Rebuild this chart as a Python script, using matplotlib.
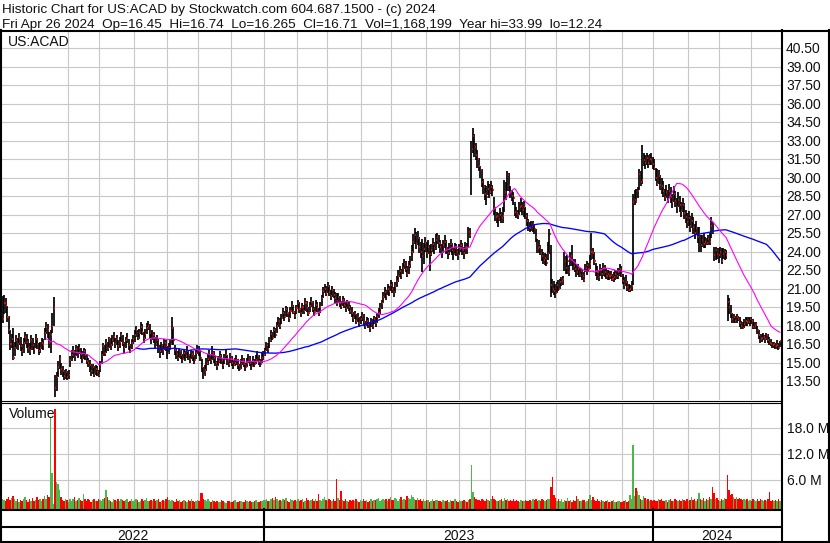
import numpy as np
import pandas as pd
import matplotlib
matplotlib.use("Agg")
import matplotlib.pyplot as plt

plt.rcParams['font.family'] = ['Liberation Sans', 'DejaVu Sans']

# ---------------- data ----------------
START_DATE = "2022-05-02"
TICKER = "US:ACAD"
HEADER_1 = "Historic Chart for US:ACAD by Stockwatch.com 604.687.1500 - (c) 2024"
HEADER_2 = "Fri Apr 26 2024  Op=16.45  Hi=16.74  Lo=16.265  Cl=16.71  Vol=1,168,199  Year hi=33.99  lo=12.24"

CLOSE = [
    18.5, 19.8, 19.6, 18.7, 17.6, 16.5, 16.9,
    15.4, 16.2, 16.8, 16.5, 17.0, 16.3, 15.9, 16.6, 17.1, 16.7, 16.2, 16.0, 16.8, 16.4, 16.1, 16.9, 16.5, 15.9, 16.2, 16.6, 16.4,
    17.4, 17.9, 17.6, 16.6, 17.2, 18.0, 19.4,
    12.9, 13.8, 14.6, 15.3, 14.5, 14.3, 13.9, 14.2, 13.8, 14.0,
    15.2, 15.6, 15.9, 15.5, 16.1, 15.8, 16.2, 15.7, 15.4, 15.9, 15.6, 15.1,
    15.0, 14.8, 14.3, 14.6, 14.1, 14.5, 14.2, 14.0,
    14.8, 15.6, 16.3, 15.8, 16.6, 16.2, 16.9, 16.4,
    16.8, 17.1, 16.5, 16.9, 16.3, 16.7, 17.2, 16.6, 16.2, 16.8, 17.0, 16.4, 16.1, 16.6, 16.9,
    17.2, 17.6, 17.0, 17.4, 17.9, 17.5, 17.0, 17.3, 17.8, 18.0, 17.4, 16.9, 17.2,
    17.0, 16.5, 16.8, 16.2, 15.9, 16.4, 16.0, 16.6, 16.3, 15.8, 16.2, 16.5, 17.8, 16.8,
    16.0, 15.7, 15.4, 15.9, 15.6, 15.3, 15.8, 15.5, 15.9, 15.6, 15.3, 15.7, 15.5, 15.2, 15.8, 16.1, 15.9, 15.4,
    14.6, 14.0, 14.4, 15.0, 15.3,
    15.6, 15.2, 15.8, 15.4, 15.0, 14.7, 15.1, 15.5, 15.2, 14.8, 15.3, 15.6, 15.1, 14.9, 15.4, 15.0, 14.8,
    15.0, 15.2, 14.8, 14.5, 14.9, 15.2, 14.9, 14.6, 15.0, 15.3, 15.0, 14.7, 15.1, 14.9, 15.2, 15.5, 15.1, 14.9, 15.4, 15.6,
    15.9, 16.4, 16.1, 16.8, 17.3, 17.0, 17.6, 17.2, 18.0, 18.4, 18.0,
    18.6, 19.0, 18.7, 19.3, 19.0, 18.6, 19.2, 19.6, 19.1, 18.8, 19.4, 19.8, 19.3, 19.0,
    19.5, 19.2, 19.8, 19.4, 19.0, 19.6, 19.9, 19.3, 19.1, 19.7, 19.4, 19.0, 19.5,
    20.2, 20.8, 21.0, 20.6, 21.2, 20.7, 20.4, 20.9, 20.5, 20.2,
    20.0, 20.3, 19.8, 19.6, 20.1, 19.7, 19.4, 19.8, 19.5, 19.2,
    19.0, 18.6, 18.9, 18.4, 18.7, 18.2, 18.5, 18.8, 18.3, 18.0, 18.4, 18.1, 17.8, 18.3, 18.0, 18.5, 18.2, 18.7, 19.0, 19.4,
    19.8, 20.3, 20.7, 20.4, 21.0, 20.8, 21.3, 21.0, 20.7, 21.2,
    21.6, 22.0, 22.4, 22.1, 22.7, 23.0, 22.6, 22.2, 22.8, 23.1,
    24.0, 24.8, 25.3, 24.6, 25.1, 24.4, 24.0,
    23.6, 24.2, 24.7, 23.9, 24.4, 23.8, 24.1, 24.6,
    24.3, 24.9, 25.2, 24.7, 24.4, 24.0, 24.5, 24.8, 24.3, 23.9, 24.2, 24.6, 24.1, 23.8, 24.3, 24.0, 23.7, 24.2, 24.5, 24.1, 23.9, 24.4, 24.2, 25.6, 25.3,
    32.3, 33.4, 32.5, 31.8, 31.5, 30.9, 30.6, 29.6, 29.2, 28.7,
    28.4, 29.1, 28.8, 29.2, 29.0, 27.5, 26.8, 26.9, 26.6, 27.0,
    26.7, 26.9, 28.8, 28.5, 30.2, 29.4, 28.8, 28.5, 28.3, 27.2,
    27.1, 27.0, 27.6, 27.7, 27.4, 27.6, 26.9, 26.5, 26.0, 25.9,
    26.1,
    26.2, 25.8, 25.2, 24.3, 24.4, 23.9, 23.6, 23.3, 23.5, 23.1, 23.9, 25.4, 21.3,
    21.0, 20.8, 20.6, 21.3, 21.0, 21.5, 21.6, 21.8,
    23.2, 22.7, 23.2, 22.3, 23.6, 23.3, 22.8, 22.6, 22.3, 22.6,
    22.1, 22.4, 22.0, 21.7, 22.7, 22.9, 22.6, 23.0, 24.0, 23.9,
    23.2, 22.4, 22.3, 21.9, 22.5, 22.2, 22.7, 22.3, 22.0, 22.2,
    22.0,
    22.1, 21.8, 21.9, 22.2, 22.0, 22.3, 22.6, 22.1, 21.6, 21.3,
    21.5, 21.1, 20.9, 21.0, 21.2, 28.0, 28.2, 28.0, 28.9, 30.3,
    29.6, 29.8, 31.4, 31.2, 31.6, 31.2, 31.5, 31.4,
    31.1,
    30.8, 30.0, 29.5, 30.1, 29.4, 29.3, 28.9, 28.4, 28.8, 28.2,
    28.9, 28.4, 28.0, 28.7, 28.1, 27.6, 28.2, 27.8, 27.3, 27.8, 27.1, 26.8, 26.4, 26.7, 26.1, 26.5, 26.0, 25.5, 25.9, 25.2,
    25.4, 24.5, 24.9, 24.6, 24.8, 24.7, 25.0, 24.8, 26.1, 25.6,
    23.7, 24.1, 23.8, 23.7, 24.0, 23.2, 23.8, 24.0, 23.7,
    19.9, 19.5, 19.0, 18.5, 18.7, 18.4, 18.7, 18.5, 18.2, 18.0, 17.8, 18.1, 18.4, 18.3, 18.3, 18.5, 18.4,
    17.9, 18.0, 18.1, 17.6, 17.2, 16.9, 17.0, 17.1, 16.9, 17.2, 16.8, 16.6, 16.5, 16.4, 16.5, 16.3, 16.4, 16.2, 16.71,
]

HIGH = [
    20.4, 20.5, 20.2, 19.6, 18.8, 17.6, 17.3,
    17.8, 16.7, 17.2, 17.0, 17.4, 17.1, 16.5, 17.0, 17.5, 17.3, 16.9, 16.6, 17.2, 17.0, 16.6, 17.3, 17.0, 16.6, 16.7, 17.0, 16.9,
    17.8, 18.3, 18.1, 17.5, 17.6, 19.0, 20.3,
    14.0, 14.2, 15.1, 15.6, 15.0, 14.7, 14.4, 14.5, 14.3, 14.4,
    15.5, 16.0, 16.3, 16.0, 16.4, 16.3, 16.5, 16.2, 15.9, 16.2, 16.1, 15.7,
    15.4, 15.2, 14.9, 14.9, 14.7, 14.8, 14.7, 14.4,
    15.1, 15.9, 16.6, 16.4, 16.9, 16.7, 17.1, 17.0,
    17.2, 17.5, 17.0, 17.2, 16.8, 17.1, 17.5, 17.2, 16.7, 17.1, 17.4, 16.9, 16.5, 16.9, 17.2,
    17.6, 18.0, 17.6, 17.7, 18.3, 18.1, 17.5, 17.7, 18.2, 18.4, 18.1, 17.5, 17.6,
    17.5, 17.1, 17.2, 16.9, 16.4, 16.7, 16.5, 16.9, 16.8, 16.3, 16.6, 16.9, 18.7, 17.9,
    16.4, 16.1, 15.9, 16.2, 16.0, 15.7, 16.1, 15.9, 16.3, 16.0, 15.7, 16.0, 15.9, 15.6, 16.1, 16.4, 16.3, 16.0,
    15.3, 14.6, 14.8, 15.4, 15.7,
    16.0, 15.7, 16.3, 15.9, 15.5, 15.1, 15.5, 15.9, 15.7, 15.3, 15.7, 16.0, 15.6, 15.3, 15.8, 15.5, 15.2,
    15.4, 15.6, 15.3, 14.9, 15.3, 15.6, 15.4, 15.0, 15.4, 15.7, 15.5, 15.1, 15.5, 15.3, 15.6, 15.9, 15.6, 15.3, 15.8, 15.9,
    16.2, 16.7, 16.6, 17.1, 17.6, 17.5, 17.9, 17.8, 18.3, 18.7, 18.6,
    18.9, 19.4, 19.2, 19.6, 19.5, 19.1, 19.5, 20.0, 19.7, 19.2, 19.7, 20.1, 19.9, 19.4,
    19.8, 19.7, 20.2, 20.0, 19.5, 19.9, 20.3, 20.0, 19.5, 20.1, 19.9, 19.4, 19.9,
    20.5, 21.1, 21.4, 21.2, 21.5, 21.3, 20.9, 21.2, 21.0, 20.7,
    20.6, 20.6, 20.4, 20.0, 20.4, 20.2, 19.9, 20.1, 20.0, 19.7,
    19.5, 19.1, 19.2, 18.9, 19.0, 18.7, 18.8, 19.1, 18.9, 18.4, 18.7, 18.6, 18.3, 18.6, 18.5, 18.8, 18.7, 19.0, 19.4, 19.8,
    20.1, 20.7, 21.1, 20.9, 21.4, 21.2, 21.7, 21.5, 21.1, 21.5,
    22.0, 22.5, 22.8, 22.6, 23.1, 23.4, 23.2, 22.8, 23.2, 23.6,
    24.5, 25.4, 25.9, 25.6, 25.7, 25.2, 24.8,
    25.0, 24.7, 25.2, 24.8, 24.9, 24.5, 24.6, 25.1,
    24.8, 25.4, 25.5, 25.3, 24.9, 24.6, 24.9, 25.3, 24.9, 24.4, 24.7, 25.0, 24.7, 24.3, 24.7, 24.6, 24.2, 24.6, 24.9, 24.7, 24.4, 24.8, 24.7, 26.0, 25.9,
    33.0, 34.0, 33.5, 32.8, 32.2, 31.6, 30.9, 30.7, 29.9, 29.4,
    29.3, 29.7, 29.5, 29.7, 29.4, 28.4, 27.6, 27.2, 27.1, 27.5,
    27.2, 27.6, 29.8, 29.6, 30.5, 30.4, 29.3, 29.0, 28.8, 28.0,
    27.6, 27.4, 28.0, 28.3, 28.0, 28.1, 27.6, 27.1, 26.6, 26.4,
    26.5,
    26.5, 26.2, 25.8, 25.0, 24.9, 24.5, 24.2, 24.0, 23.9, 23.8, 24.8, 25.8, 24.5,
    21.8, 21.6, 21.4, 21.5, 21.7, 21.8, 21.9, 22.0,
    24.0, 23.6, 23.7, 22.9, 24.0, 24.5, 23.4, 23.4, 23.0, 23.0,
    22.7, 22.7, 22.5, 22.3, 23.0, 23.2, 23.1, 23.7, 25.5, 24.3,
    24.0, 23.1, 22.8, 22.5, 23.0, 22.7, 23.1, 22.9, 22.7, 22.5,
    22.4,
    22.4, 22.2, 22.3, 22.5, 22.5, 22.7, 23.0, 22.8, 22.2, 21.9,
    22.1, 21.6, 21.4, 21.3, 21.6, 28.7, 29.0, 29.1, 29.2, 30.7,
    30.5, 32.6, 32.0, 31.8, 32.0, 31.8, 31.9, 32.0,
    31.7,
    31.5, 30.8, 30.7, 30.6, 30.2, 30.0, 29.7, 29.1, 29.4, 29.0,
    29.5, 29.2, 28.7, 29.3, 28.9, 28.3, 28.8, 28.5, 28.0, 28.3, 27.9, 27.4, 27.1, 27.3, 26.9, 27.1, 26.8, 26.2, 26.5, 26.0,
    26.0, 25.3, 25.3, 25.5, 25.2, 25.1, 25.3, 25.5, 26.8, 26.4,
    24.4, 24.4, 24.3, 24.3, 24.4, 24.3, 24.3, 24.2, 24.1,
    20.5, 20.2, 19.7, 19.0, 18.9, 18.8, 18.9, 18.8, 18.7, 18.4, 18.3, 18.5, 18.7, 18.7, 18.7, 18.6, 18.7,
    18.5, 18.3, 18.3, 18.0, 17.6, 17.3, 17.3, 17.4, 17.2, 17.4, 17.3, 17.1, 16.9, 16.7, 16.7, 16.6, 16.8, 16.6, 16.74,
]

LOW = [
    18.2, 18.9, 19.0, 18.3, 17.3, 16.0, 16.2,
    15.2, 15.5, 16.1, 16.0, 16.4, 15.9, 15.5, 15.8, 16.5, 16.2, 15.8, 15.6, 16.0, 16.0, 15.7, 16.2, 16.1, 15.6, 15.8, 16.1, 16.0,
    16.8, 17.3, 17.0, 16.2, 15.8, 17.4, 18.0,
    12.2, 12.7, 13.8, 14.5, 14.0, 13.8, 13.6, 13.7, 13.6, 13.7,
    14.6, 15.1, 15.4, 15.1, 15.5, 15.4, 15.7, 15.3, 15.0, 15.3, 15.2, 14.9,
    14.6, 14.2, 13.9, 14.1, 13.8, 14.0, 13.9, 13.8,
    14.2, 14.9, 15.5, 15.5, 15.8, 15.9, 16.2, 16.0,
    16.3, 16.7, 16.2, 16.4, 15.9, 16.2, 16.7, 16.3, 15.8, 16.2, 16.6, 16.0, 15.8, 16.1, 16.5,
    16.7, 17.1, 16.8, 16.9, 17.3, 17.2, 16.6, 16.9, 17.3, 17.6, 17.0, 16.5, 16.8,
    16.6, 16.2, 16.3, 15.8, 15.4, 15.8, 15.6, 16.0, 15.9, 15.3, 15.7, 16.0, 16.4, 16.4,
    15.6, 15.3, 15.1, 15.4, 15.3, 15.0, 15.3, 15.1, 15.4, 15.2, 15.0, 15.3, 15.1, 14.9, 15.3, 15.7, 15.5, 15.1,
    14.2, 13.7, 13.9, 14.3, 14.8,
    15.1, 14.9, 15.2, 15.0, 14.7, 14.4, 14.7, 15.0, 14.9, 14.5, 14.9, 15.2, 14.8, 14.6, 15.0, 14.7, 14.5,
    14.7, 14.8, 14.5, 14.3, 14.5, 14.8, 14.6, 14.3, 14.6, 15.0, 14.7, 14.4, 14.7, 14.6, 14.9, 15.1, 14.8, 14.6, 15.0, 15.2,
    15.5, 15.9, 15.8, 16.2, 16.7, 16.8, 17.1, 17.0, 17.4, 17.9, 17.7,
    18.1, 18.5, 18.4, 18.8, 18.7, 18.3, 18.6, 19.1, 18.9, 18.5, 18.9, 19.3, 19.0, 18.7,
    18.9, 18.9, 19.2, 19.1, 18.8, 19.1, 19.5, 19.1, 18.8, 19.1, 19.1, 18.8, 19.0,
    19.6, 20.2, 20.6, 20.4, 20.6, 20.4, 20.1, 20.3, 20.2, 19.8,
    19.6, 19.8, 19.5, 19.3, 19.6, 19.4, 19.1, 19.3, 19.2, 18.9,
    18.7, 18.3, 18.5, 18.1, 18.3, 17.9, 18.1, 18.4, 18.0, 17.7, 18.0, 17.8, 17.5, 17.9, 17.7, 18.1, 17.9, 18.2, 18.6, 18.9,
    19.3, 19.8, 20.2, 20.1, 20.5, 20.4, 20.8, 20.6, 20.3, 20.6,
    21.1, 21.5, 21.9, 21.8, 22.2, 22.6, 22.3, 21.9, 22.2, 22.7,
    23.2, 23.9, 24.6, 24.2, 24.5, 23.9, 23.5,
    22.3, 23.0, 24.0, 23.5, 23.8, 22.4, 23.6, 24.0,
    23.8, 24.1, 24.6, 24.3, 23.9, 23.5, 23.9, 24.3, 23.8, 23.4, 23.7, 24.0, 23.7, 23.3, 23.7, 23.6, 23.3, 23.7, 24.0, 23.7, 23.4, 23.8, 23.8, 24.3, 25.1,
    28.6, 32.0, 31.7, 31.4, 30.8, 30.5, 30.0, 29.2, 28.7, 28.2,
    27.8, 28.6, 28.3, 28.7, 28.5, 27.0, 26.5, 26.3, 26.0, 26.5,
    26.3, 26.3, 27.2, 28.2, 28.9, 28.9, 28.3, 28.1, 27.8, 26.9,
    26.7, 26.6, 27.0, 27.2, 27.0, 26.8, 26.6, 26.1, 25.7, 25.6,
    25.7,
    25.6, 25.4, 24.8, 23.9, 23.9, 23.7, 23.2, 23.0, 22.9, 22.8, 23.3, 23.8, 20.3,
    20.6, 20.5, 20.2, 20.6, 20.8, 21.0, 21.2, 21.3,
    22.4, 22.2, 22.2, 22.0, 22.8, 22.8, 22.5, 22.3, 21.9, 22.1,
    21.9, 21.9, 21.7, 21.5, 22.3, 22.1, 22.3, 22.6, 23.3, 23.4,
    22.9, 22.0, 21.7, 21.6, 22.0, 21.8, 22.0, 21.9, 21.8, 21.7,
    21.7,
    21.8, 21.6, 21.5, 21.7, 21.8, 21.8, 22.0, 21.9, 21.4, 21.0,
    21.2, 20.8, 20.7, 20.7, 20.8, 21.3, 27.8, 27.9, 28.3, 29.0,
    29.3, 29.5, 30.9, 30.7, 31.0, 30.8, 31.0, 31.0,
    30.7,
    30.6, 29.7, 29.3, 29.5, 29.0, 28.7, 28.4, 28.1, 28.3, 27.9,
    28.3, 27.9, 27.5, 28.0, 27.6, 27.1, 27.6, 27.2, 26.8, 27.2, 26.6, 26.3, 25.9, 26.1, 25.6, 25.9, 25.4, 25.0, 25.3, 24.7,
    24.0, 24.0, 24.4, 24.3, 24.3, 24.5, 24.5, 24.5, 25.1, 25.4,
    23.2, 23.3, 23.4, 23.1, 23.5, 23.0, 23.4, 23.3, 23.4,
    18.4, 18.9, 18.6, 18.2, 18.2, 18.2, 18.2, 18.4, 17.9, 17.7, 17.7, 17.8, 18.0, 18.0, 18.1, 18.0, 18.1,
    17.7, 17.7, 17.7, 17.3, 16.9, 16.6, 16.7, 16.8, 16.6, 16.8, 16.6, 16.4, 16.3, 16.2, 16.2, 16.1, 16.1, 16.0, 16.27,
]

# volume in units of 100,000 shares
VOLUME = [
    18, 14, 12, 17, 21, 15, 19, 24, 16, 13, 18, 11, 15, 12, 17, 22, 14, 11, 16, 13, 19, 12, 15, 21, 14, 18, 12, 16, 23, 17, 25, 22,
    206, 77, 6, 225, 56, 52, 38, 22,
    15, 12, 17, 14, 11, 16, 13, 18, 21, 12, 15, 19, 14, 13, 28, 16, 12, 17, 15, 11, 14, 17, 13, 12, 18,
    14, 12, 16, 19, 38, 22, 15, 13, 11, 17, 14, 12, 16, 13, 18, 15, 12, 14, 17, 11, 13, 16, 12, 15, 18, 14, 11, 13, 16, 12, 14, 19, 13, 12, 15,
    13, 16, 12, 14, 17, 11, 13, 15, 12, 18, 22, 14, 12, 15, 13, 11, 16, 12, 14, 10, 13, 15, 12, 11, 14, 13, 16, 12, 10, 13, 15, 12,
    31, 30, 18,
    14, 12, 16, 13, 11, 15, 12, 10, 13, 9, 11, 14, 12, 10, 8, 12, 13, 11, 9, 12, 14, 10, 11, 13, 12, 9, 11, 15, 12, 10, 13, 11, 9, 12, 14, 11, 10, 13, 12, 15,
    14, 17, 13, 12, 16, 19, 14, 22, 18, 13, 15, 12, 17, 14, 20, 13, 11, 16, 14, 12,
    15, 13, 18, 12, 14, 16, 11, 13, 19, 15, 12, 14, 17, 13, 16, 12, 28, 14, 13, 17,
    22, 15, 13, 18, 14, 12, 16, 13, 62, 19, 15, 35, 14, 12, 16, 13, 11, 15, 12, 14,
    13, 16, 12, 11, 15, 13, 18, 12, 14, 11, 13, 17, 12, 15, 14, 16, 19, 13, 15, 17,
    14, 18, 13, 16, 22, 15, 14, 19, 17, 13, 16, 21, 15, 18, 14, 24, 19, 16, 27, 22,
    18, 15, 20, 14, 17, 13, 16, 12, 15, 14, 11, 13, 16, 12, 14, 15, 12, 13, 11, 14,
    13, 12, 15, 11, 14, 12, 13, 16, 12, 11, 14, 13, 12, 15, 13, 11, 14, 18, 95, 32,
    21, 17, 15, 14, 13, 16, 14, 12, 18, 15, 13, 16, 24, 17, 15, 13, 12, 14, 16, 13,
    19, 15, 17, 13, 14, 12, 16, 13, 15, 12, 11, 14, 13, 12, 15, 13, 12, 14, 13, 16,
    14, 17, 13, 15, 12, 16, 14, 13, 15, 18, 16, 45, 68, 25, 20, 13, 17, 12, 16, 11,
    14, 12, 19, 13, 15, 11, 14, 12, 23, 16, 13, 12, 15, 14, 11, 13, 18, 26, 15, 21,
    14, 12, 16, 13, 11, 14, 12, 10, 13, 15, 11, 9, 12, 14, 10, 11, 13, 12, 10, 11,
    12, 14, 11, 13, 25, 17, 141, 24, 42, 35, 25, 18, 15, 23, 19, 14, 16, 13, 15, 12,
    15, 13, 12, 16, 14, 18, 13, 12, 15, 11, 14, 16, 13, 12, 17, 14, 12, 15, 13, 16,
    14, 12, 17, 13, 15, 22, 14, 16, 12, 18, 31, 17, 14, 19, 13, 16, 15, 22, 18, 44,
    30, 16, 19, 14, 13, 17, 15, 20, 16, 72, 38, 26, 29, 22, 18, 21, 16, 19, 17, 15,
    16, 14, 18, 13, 15, 12, 17, 14, 13, 16, 12, 18, 14, 13, 15, 12, 16, 34, 13, 14,
    12, 15, 13, 16, 12,
]

PRICE_TICKS = [13.5, 15.0, 16.5, 18.0, 19.5, 21.0, 22.5, 24.0, 25.5, 27.0,
               28.5, 30.0, 31.5, 33.0, 34.5, 36.0, 37.5, 39.0, 40.5]
VOL_TICKS = [6.0, 12.0, 18.0]          # millions
MA_FAST, MA_SLOW = 30, 90

# ---------------- layout (pixels) ----------------
W, HPX = 830, 543
PL, PR = 2, 781           # panel left / right
P_TOP, P_BOT = 31, 400    # price panel
V_TOP, V_BOT = 403, 509   # volume panel
P_YMIN, P_YMAX = 11.96, 41.88
V_YMIN, V_YMAX = -0.62, 23.84
GRID = '#c8c8c8'

n = min(len(CLOSE), len(HIGH), len(LOW), len(VOLUME))
c = np.array(CLOSE[:n]); h = np.array(HIGH[:n]); lo = np.array(LOW[:n])
vol = np.array(VOLUME[:n]) / 10.0
x = np.arange(n)
dates = pd.bdate_range(START_DATE, periods=n)
XMIN, XMAX = -0.5, n - 0.3

fig = plt.figure(figsize=(W / 100, HPX / 100), dpi=100)


def rect(l, t, r, b):
    return [l / W, 1 - b / HPX, (r - l) / W, (b - t) / HPX]


month_start = [i for i in range(1, n) if dates[i].month != dates[i - 1].month]
year_start = [i for i in range(1, n) if dates[i].year != dates[i - 1].year]

# ---- price panel
ax = fig.add_axes(rect(PL, P_TOP, PR, P_BOT))
ax.set_xlim(XMIN, XMAX)
ax.set_ylim(P_YMIN, P_YMAX)
ax.axis('off')
for t in PRICE_TICKS:
    ax.axhline(t, color=GRID, lw=0.8, zorder=0)
for i in month_start:
    if i > 30:
        ax.axvline(i - 0.5, color=GRID, lw=0.8, zorder=0)
ax.vlines(x, lo, h, color='black', lw=1.25, zorder=2)
ax.hlines(c, x + 0.15, x + 0.85, color='#ff0000', lw=1.3, zorder=3)
ma_f = pd.Series(c).rolling(MA_FAST).mean()
ma_s = pd.Series(c).rolling(MA_SLOW).mean()
ax.plot(x, ma_s, color='#0000ff', lw=0.95, zorder=4)
ax.plot(x, ma_f, color='#ff00ff', lw=0.8, zorder=4)

# ---- volume panel
axv = fig.add_axes(rect(PL, V_TOP, PR, V_BOT))
axv.set_xlim(XMIN, XMAX)
axv.set_ylim(V_YMIN, V_YMAX)
axv.axis('off')
for t in VOL_TICKS:
    axv.axhline(t, color=GRID, lw=0.8, zorder=0)
for i in month_start:
    if i > 30:
        axv.axvline(i - 0.5, color=GRID, lw=0.8, zorder=0)
up = np.r_[True, c[1:] >= c[:-1]]
cols = np.where(up, '#4cb84c', '#ff0000')
axv.bar(x, vol - V_YMIN, bottom=V_YMIN, width=1.0, color=cols, linewidth=0, zorder=2)

# ---- overlay for frame + text (pixel coordinates)
ov = fig.add_axes([0, 0, 1, 1])
ov.set_xlim(0, W)
ov.set_ylim(HPX, 0)
ov.axis('off')
ov.patch.set_alpha(0)

K = 'black'
thick = 1.5
thin = 0.8
ov.plot([0, W], [30.5, 30.5], color=K, lw=thick)
ov.plot([1, 1], [30, HPX], color=K, lw=thick)
ov.plot([W - 1.5, W - 1.5], [30, HPX], color=K, lw=thick)
ov.plot([PR + 0.5, PR + 0.5], [30, HPX], color=K, lw=thick)
ov.plot([0, PR], [400.7, 400.7], color=K, lw=thin)
ov.plot([0, PR], [403.0, 403.0], color=K, lw=thin)
ov.plot([0, PR], [509.5, 509.5], color=K, lw=thick)
ov.plot([0, PR], [527.0, 527.0], color=K, lw=thick)
ov.plot([0, W], [541.8, 541.8], color=K, lw=thick)


def xpx(i):
    return PL + (i - XMIN) / (XMAX - XMIN) * (PR - PL)


seps = [xpx(i - 0.5) for i in year_start]
for s in seps:
    ov.plot([s, s], [509, 542], color=K, lw=thick)
bounds = [PL] + seps + [PR]
for k in range(len(bounds) - 1):
    yr = dates[0].year + k
    ov.text((bounds[k] + bounds[k + 1]) / 2, 539.5, str(yr), ha='center',
            va='baseline', fontsize=10, color='#101010')


def ppx(v):
    return P_TOP + (P_YMAX - v) / (P_YMAX - P_YMIN) * (P_BOT - P_TOP)


def vpx(v):
    return V_TOP + (V_YMAX - v) / (V_YMAX - V_YMIN) * (V_BOT - V_TOP)


for t in PRICE_TICKS:
    ov.text(786, ppx(t) + 5, f"{t:.2f}", ha='left', va='baseline', fontsize=10, color='#101010')
for t in VOL_TICKS:
    ov.text(787, vpx(t) + 5, f"{t:.1f} M", ha='left', va='baseline', fontsize=10, color='#101010')

ov.text(2, 12.7, HEADER_1, ha='left', va='baseline', fontsize=9.7, color='#101010')
ov.text(2, 27.7, HEADER_2, ha='left', va='baseline', fontsize=9.7, color='#101010')
ov.text(8, 45.7, TICKER, ha='left', va='baseline', fontsize=10, color='#101010')
ov.text(9, 418.5, "Volume", ha='left', va='baseline', fontsize=10, color='#101010')

fig.savefig("out.png", dpi=100)
